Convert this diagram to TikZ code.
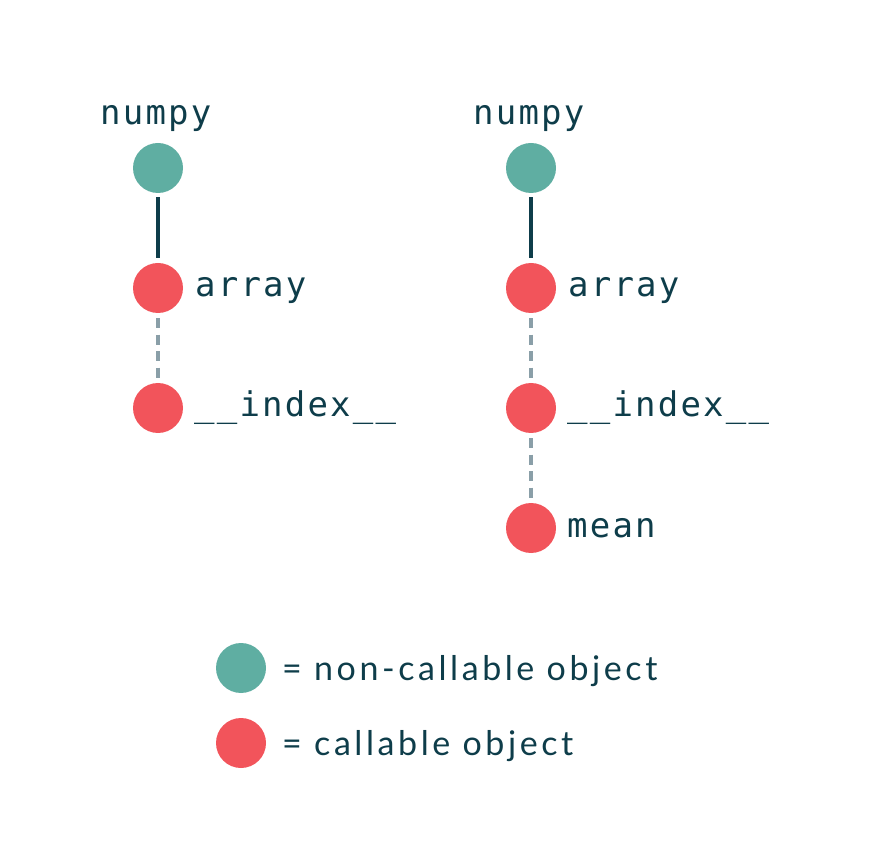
\documentclass[tikz,border=0pt]{standalone}
\usepackage{fontspec}
\newfontfamily\codefont[LetterSpace=6.5]{DejaVu Sans Mono}
\newfontfamily\legfont[LetterSpace=10.5]{Lato}
\definecolor{teal}{HTML}{5FAEA2}
\definecolor{coral}{HTML}{F2545B}
\definecolor{ink}{HTML}{0E3D4A}
\definecolor{dashc}{HTML}{8A9FA8}
\tikzset{
  dot/.style={circle,minimum size=50pt,inner sep=0pt,draw=none},
  noncall/.style={dot,fill=teal},
  callobj/.style={dot,fill=coral},
  code/.style={font=\codefont\fontsize{34}{40}\selectfont,text=ink,anchor=base west,inner sep=0pt},
  leg/.style={font=\legfont\fontsize{34}{38}\selectfont,text=ink,anchor=base west,inner sep=0pt},
  solidlink/.style={draw=ink,line width=4pt,shorten <=4pt,shorten >=5pt},
  dashlink/.style={draw=dashc,line width=4pt,dash pattern=on 10pt off 6.5pt,shorten <=5pt,shorten >=5pt}
}
\begin{document}
\begin{tikzpicture}[x=1pt,y=-1pt]
\useasboundingbox (0,0) rectangle (876,858);
% left tree
\node[noncall] (l1) at (158,168) {};
\node[callobj] (l2) at (158,288) {};
\node[callobj] (l3) at (158,408) {};
\node[code] (ln) at (100,125) {numpy};
\node[code] (la) at (195,297) {array};
\node[code] (li) at (194,417) {\_\_index\_\_};
\draw[solidlink] (l1) -- (l2);
\draw[dashlink] (l2) -- (l3);
% right tree
\node[noncall] (r1) at (531,168) {};
\node[callobj] (r2) at (531,288) {};
\node[callobj] (r3) at (531,408) {};
\node[callobj] (r4) at (531,528) {};
\node[code] (rn) at (473,125) {numpy};
\node[code] (ra) at (568,297) {array};
\node[code] (ri) at (567,417) {\_\_index\_\_};
\node[code] (rm) at (567,537) {mean};
\draw[solidlink] (r1) -- (r2);
\draw[dashlink] (r2) -- (r3);
\draw[dashlink] (r3) -- (r4);
% legend
\node[noncall] (k1) at (241,668) {};
\node[callobj] (k2) at (241,743) {};
\node[leg] (t1) at (282,680) {= non-callable object};
\node[leg] (t2) at (282,755) {= callable object};
\end{tikzpicture}
\end{document}
